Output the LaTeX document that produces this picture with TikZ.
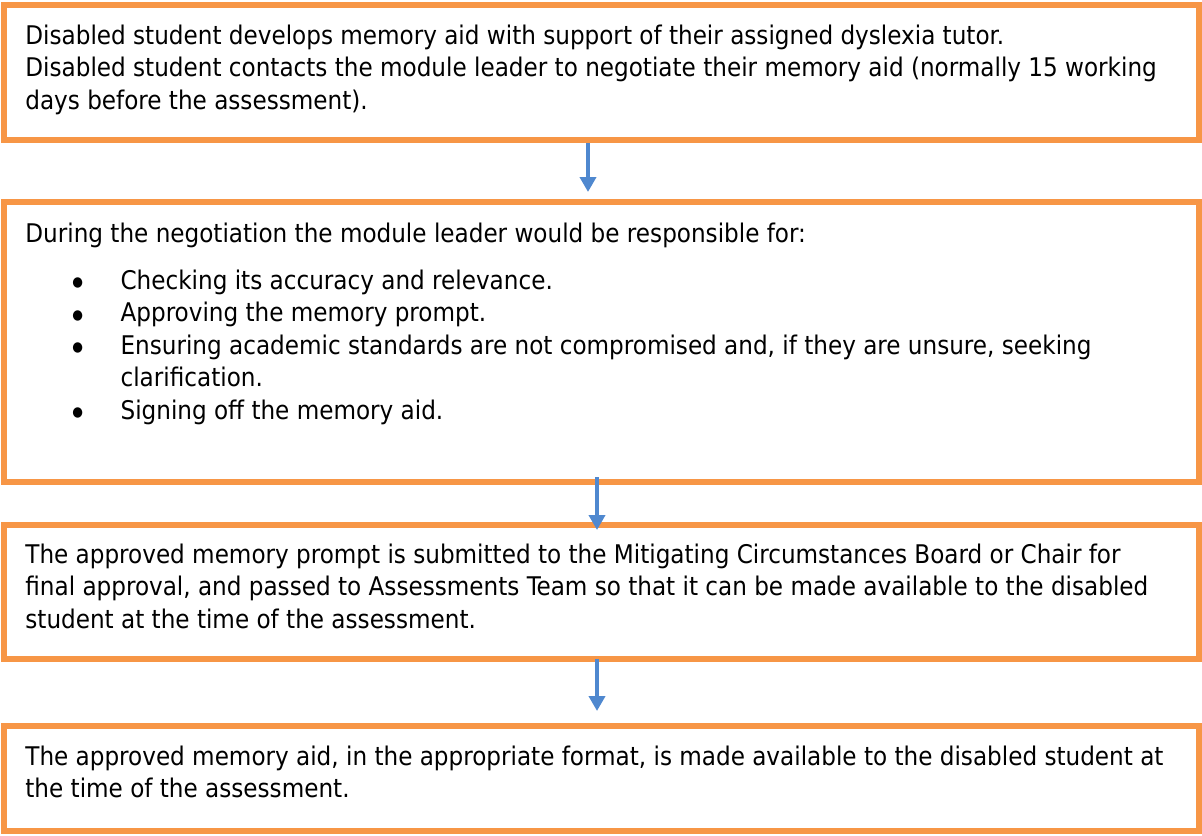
\documentclass[tikz,border=0pt]{standalone}
\usepackage{fontspec}
\setmainfont{DejaVu Sans Condensed}
\usetikzlibrary{arrows.meta,fit}

\definecolor{boxorange}{HTML}{F79646}
\definecolor{arrowblue}{HTML}{4F88CF}
\newcommand{\blt}{\makebox[47.6pt][l]{\hspace{23.5pt}\raisebox{1.4pt}{\fontsize{6.8}{7}\selectfont ●}}}

\begin{document}
\begin{tikzpicture}[x=0.5pt,y=-0.5pt]
	\tikzset{
		box/.style = {draw=boxorange, line width=3pt, inner sep=0pt},
		txt/.style = {anchor=north west, inner sep=0pt, align=left,
			font=\fontsize{12.85}{16.25}\selectfont},
		flow/.style = {draw=arrowblue, line width=2.2pt,
			-{Triangle[width=8pt,length=7.5pt]}}
	}
	\useasboundingbox (0,0) rectangle (1202,835);
		\node[box, fit={(4,4.5) (1199,140)}] (b1) {};
		\node[box, fit={(4,201.5) (1199,481.5)}] (b2) {};
		\node[box, fit={(4,524.5) (1199,658.5)}] (b3) {};
		\node[box, fit={(4,725.5) (1199,831)}] (b4) {};
		\node[txt] (t1) at (25,21.25) {\strut Disabled student develops memory aid with support of their assigned dyslexia tutor.\\
			Disabled student contacts the module leader to negotiate their memory aid (normally 15 working\\
			days before the assessment).};
		\node[txt] (t2) at (25,219.25) {\strut During the negotiation the module leader would be responsible for:\\[7.25pt]
			\blt Checking its accuracy and relevance.\\
			\blt Approving the memory prompt.\\
			\blt Ensuring academic standards are not compromised and, if they are unsure, seeking\\
			\hspace*{47.6pt}clarification.\\
			\blt Signing off the memory aid.};
		\node[txt] (t3) at (25,540.25) {\strut The approved memory prompt is submitted to the Mitigating Circumstances Board or Chair for\\
			final approval, and passed to Assessments Team so that it can be made available to the disabled\\
			student at the time of the assessment.};
		\node[txt] (t4) at (25,742.25) {\strut The approved memory aid, in the appropriate format, is made available to the disabled student at\\
			the time of the assessment.};
	%	arrows sit a little left of the box centres
		\draw[flow] ([xshift=-6.75pt]b1.south) -- ([xshift=-6.75pt,yshift=3.25pt]b2.north);
		\draw[flow] ([xshift=-2.25pt,yshift=3.75pt]b2.south) -- ([xshift=-2.25pt,yshift=-4.25pt]b3.north);
		\draw[flow] ([xshift=-2.25pt,yshift=1.25pt]b3.south) -- ([xshift=-2.25pt,yshift=5.75pt]b4.north);
\end{tikzpicture}
\end{document}
